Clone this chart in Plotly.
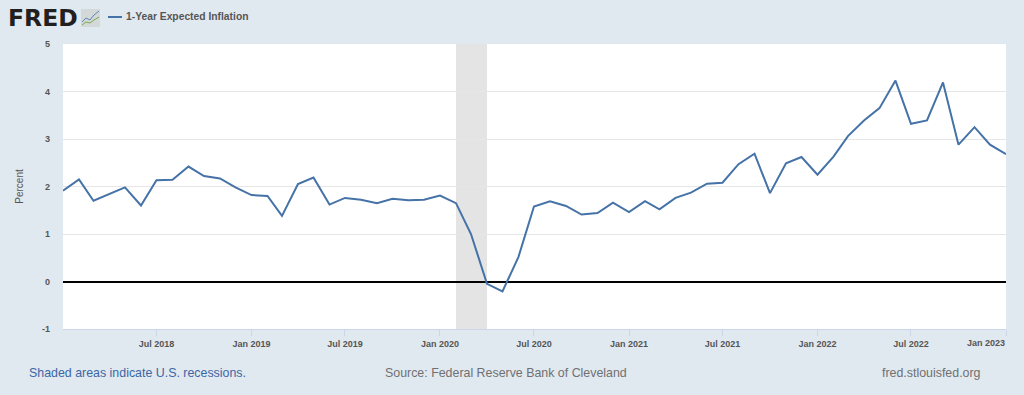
import plotly.graph_objects as go

months = [f"{y}-{m:02d}-01" for y in range(2018, 2023) for m in range(1, 13)] + ["2023-01-01"]
inflation = [
    1.91, 2.15, 1.70, 1.85, 1.98, 1.60, 2.13, 2.14, 2.42, 2.22, 2.17, 1.98,
    1.82, 1.80, 1.38, 2.05, 2.19, 1.62, 1.76, 1.72, 1.65, 1.74, 1.71, 1.72,
    1.81, 1.65, 1.00, -0.05, -0.21, 0.52, 1.58, 1.69, 1.59, 1.41, 1.44, 1.66,
    1.46, 1.69, 1.52, 1.76, 1.87, 2.06, 2.08, 2.47, 2.69, 1.86, 2.49, 2.62,
    2.25, 2.63, 3.06, 3.39, 3.65, 4.23, 3.32, 3.39, 4.19, 2.88, 3.25, 2.88,
    2.68,
]
tick_dates = ["2018-07-01", "2019-01-01", "2019-07-01", "2020-01-01", "2020-07-01",
              "2021-01-01", "2021-07-01", "2022-01-01", "2022-07-01", "2023-01-01"]
tick_labels = ["Jul 2018", "Jan 2019", "Jul 2019", "Jan 2020", "Jul 2020",
               "Jan 2021", "Jul 2021", "Jan 2022", "Jul 2022", ""]
last_tick_label = "Jan 2023"
y_ticks = [-1, 0, 1, 2, 3, 4, 5]
y_labels = ["-1", "0", "1", "2", "3", "4", "5"]
recession = ("2020-02-01", "2020-04-01")

W, H = 1024, 395
L, R, T, B = 63, 18, 44, 66
BG = "#e1e9f0"
LINE = "#4572a7"
FONT = "Liberation Sans, Arial, sans-serif"


def px(v):
    return (v - L) / (W - L - R)


def py(v):
    return 1 - (v - T) / (H - T - B)


fig = go.Figure()
fig.add_trace(go.Scatter(x=months, y=inflation, mode="lines", name="1-Year Expected Inflation",
                         line=dict(color=LINE, width=2), showlegend=False, hoverinfo="x+y",
                         cliponaxis=False))
fig.add_shape(type="rect", xref="x", yref="paper", x0=recession[0], x1=recession[1], y0=0, y1=1,
              fillcolor="#e4e4e4", line_width=0, layer="below")

page = dict(xref="paper", yref="paper", showarrow=False, yanchor="middle")
notes = [
    dict(x=px(8), y=py(18), text="<b>FRED</b>", xanchor="left", xshift=-2,
         font=dict(size=23.5, color="#231f20", family="DejaVu Sans")),
    dict(x=px(126), y=py(17), text="<b>1-Year Expected Inflation</b>", xanchor="left", xshift=-2,
         font=dict(size=10.3, color="#555555", family=FONT)),
    dict(x=px(29), y=py(373), text="Shaded areas indicate U.S. recessions.", xanchor="left", xshift=-2,
         font=dict(size=12.4, color="#3b67a5", family=FONT)),
    dict(x=px(385), y=py(373), text="Source: Federal Reserve Bank of Cleveland", xanchor="left", xshift=-2,
         font=dict(size=12.4, color="#707070", family=FONT)),
    dict(x=px(882), y=py(373), text="fred.stlouisfed.org", xanchor="left", xshift=-2,
         font=dict(size=12.4, color="#707070", family=FONT)),
]
for n in notes:
    fig.add_annotation(**page, **n)
fig.add_annotation(x=tick_dates[-1], xref="x", y=py(343), yref="paper", yanchor="middle", xanchor="right",
                   showarrow=False, text=f"<b>{last_tick_label}</b>", xshift=1,
                   font=dict(size=9, color="#555555", family=FONT))

# Legend key and the little chart icon of the logo
fig.add_shape(type="line", xref="paper", yref="paper", x0=px(108), x1=px(122), y0=py(17), y1=py(17),
              line=dict(color=LINE, width=2))
fig.add_shape(type="rect", xref="paper", yref="paper", x0=px(81), x1=px(100), y0=py(27), y1=py(9),
              fillcolor="#d3d8d8", line_width=0)
fig.add_shape(type="path", xref="paper", yref="paper",
              path=f"M {px(82)} {py(22)} L {px(86)} {py(18)} L {px(90)} {py(20)} L {px(94)} {py(15)} L {px(99)} {py(11)}",
              line=dict(color="#5f86b5", width=1))
fig.add_shape(type="path", xref="paper", yref="paper",
              path=f"M {px(82)} {py(25)} L {px(86)} {py(22)} L {px(90)} {py(23)} L {px(94)} {py(20)} L {px(99)} {py(17)}",
              line=dict(color="#7ca850", width=1))

fig.update_layout(
    width=W, height=H, paper_bgcolor=BG, plot_bgcolor="#ffffff",
    margin=dict(l=L, r=R, t=T, b=B), showlegend=False,
    font=dict(family=FONT, color="#555555"),
    xaxis=dict(type="date", range=[months[0], months[-1]], tickmode="array",
               tickvals=tick_dates, ticktext=[f"<b>{t}</b>" if t else "" for t in tick_labels],
               ticks="outside", ticklen=6, tickwidth=1, tickcolor="#ccd6eb", showgrid=False,
               showline=True, linecolor="#ccd6eb", linewidth=1, tickangle=0,
               tickfont=dict(size=9, color="#555555", family=FONT)),
    yaxis=dict(range=[-1, 5], tickmode="array", tickvals=y_ticks,
               ticktext=[f"<b>{t}</b>" for t in y_labels],
               ticks="", ticklabelstandoff=12, showgrid=True, gridcolor="#e6e6e6", gridwidth=1,
               zeroline=True, zerolinecolor="#000000", zerolinewidth=2,
               showline=False, tickfont=dict(size=9, color="#555555", family=FONT),
               title=dict(text="Percent", standoff=16, font=dict(size=10, color="#555555", family=FONT))),
)
fig.write_html("out.html", config=dict(displayModeBar=False),
               post_script="document.body.style.margin='0';document.body.style.overflow='hidden';")
